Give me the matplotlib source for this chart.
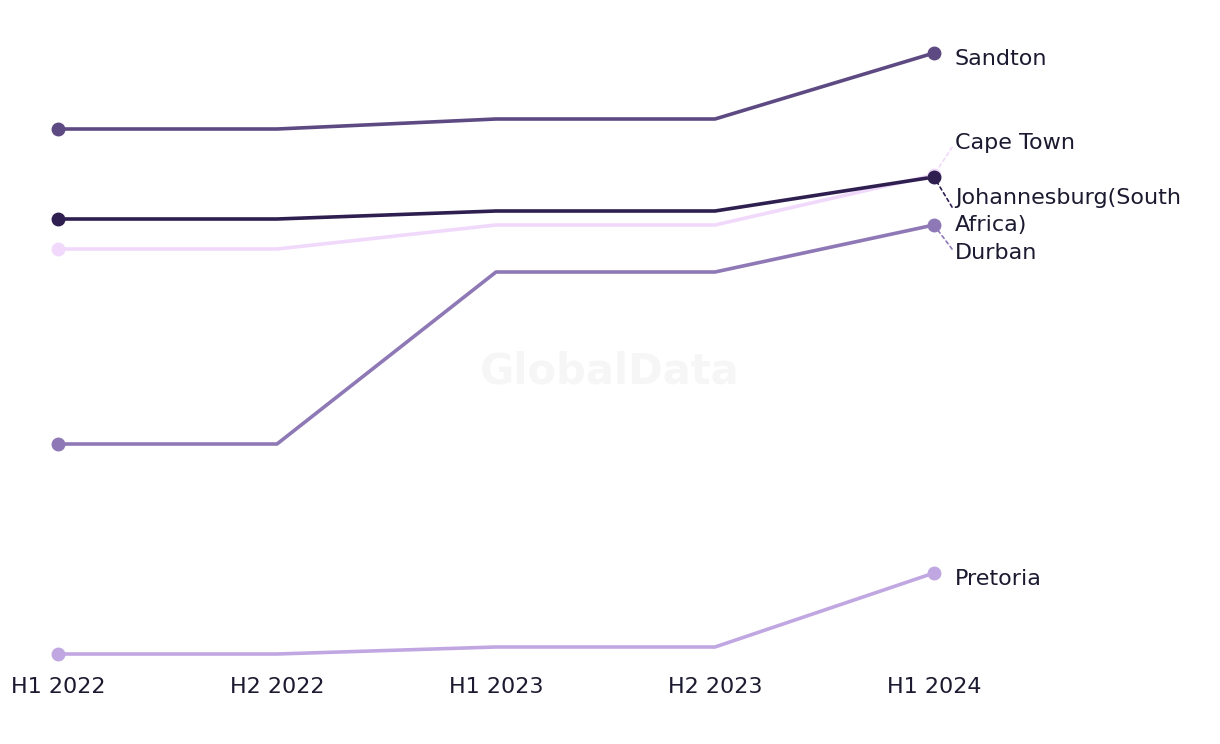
import numpy as np
import matplotlib
matplotlib.use("Agg")
import matplotlib.pyplot as plt

# periods on the x axis
periods = ["H1 2022", "H2 2022", "H1 2023", "H2 2023", "H1 2024"]

# values (no y axis shown, relative units)
sandton = [57.1, 57.1, 58.1, 58.1, 64.7]
johannesburg = [48.1, 48.1, 48.9, 48.9, 52.3]
cape_town = [45.1, 45.1, 47.5, 47.5, 52.5]
durban = [25.6, 25.6, 42.8, 42.8, 47.5]
pretoria = [4.6, 4.6, 5.3, 5.3, 12.7]

series_names = ["Sandton", "Cape Town", "Johannesburg(South\nAfrica)", "Durban", "Pretoria"]
series_vals = [sandton, cape_town, johannesburg, durban, pretoria]
colors = ["#5d4a82", "#f1d9fb", "#2f1f50", "#8e78b5", "#c1a7e2"]
# label offsets in points (dx, dy) and whether a leader line is drawn
offsets = [(15, -4), (15, 23), (15, -25), (15, -20), (15, -4)]
leaders = [False, True, True, True, False]

txt_col = "#1b1a30"
plt.rcParams['font.family'] = ['DejaVu Sans']

fig = plt.figure(figsize=(12.2, 7.44), dpi=100)
ax = fig.add_axes([58 / 1220, 74 / 744, 876 / 1220, 630 / 744])
x = np.arange(len(periods))

# draw order: light lines first so dark ones sit on top
order = [1, 4, 3, 0, 2]
for i in order:
    ax.plot(x, series_vals[i], color=colors[i], lw=2.6, solid_capstyle="round", zorder=2 + i * 0.1)
    ax.plot([x[0], x[-1]], [series_vals[i][0], series_vals[i][-1]], "o", color=colors[i],
            ms=9, clip_on=False, zorder=3 + i * 0.1, linestyle="none")

for i, name in enumerate(series_names):
    xy = (x[-1], series_vals[i][-1])
    if leaders[i]:
        ax.annotate(name, xy=xy, xytext=offsets[i], textcoords="offset points",
                    ha="left", va="center", fontsize=16, color=txt_col, linespacing=1.45,
                    arrowprops=dict(arrowstyle="-", color=colors[i], lw=1.2,
                                    linestyle=(0, (2, 2)), shrinkA=0, shrinkB=2,
                                    relpos=(0, 0.5)),
                    annotation_clip=False)
    else:
        ax.annotate(name, xy=xy, xytext=offsets[i], textcoords="offset points",
                    ha="left", va="center", fontsize=16, color=txt_col,
                    annotation_clip=False)

fig.text(610 / 1220, 1 - 372 / 744, "GlobalData", ha="center", va="center",
         fontsize=30, fontweight="bold", color="#f6f6f6", zorder=0)

ax.set_xlim(0, 4)
ax.set_ylim(3, 66)
ax.set_xticks(x)
ax.set_xticklabels(periods, fontsize=16, color=txt_col)
ax.tick_params(axis="x", length=0, pad=5)
ax.set_yticks([])
for s in ax.spines.values():
    s.set_visible(False)
ax.patch.set_alpha(0)

fig.savefig("out.png", dpi=100)
